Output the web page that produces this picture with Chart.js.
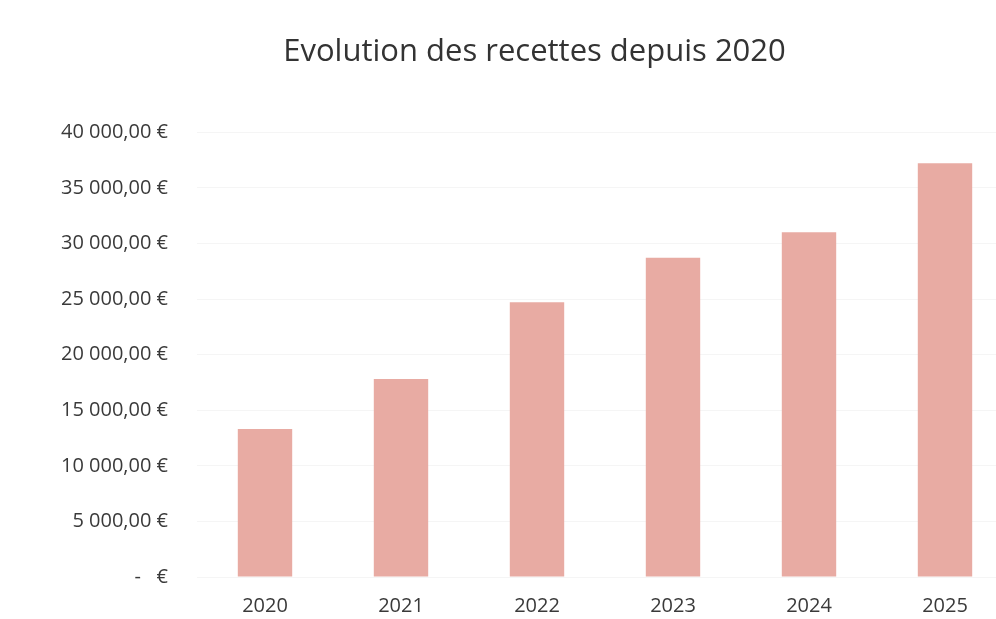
<!DOCTYPE html>
<html>
<head>
<meta charset="utf-8">
<script src="https://cdn.jsdelivr.net/npm/chart.js@4.4.0/dist/chart.umd.min.js"></script>
<style>
  html, body { margin: 0; padding: 0; background: #fff; }
  #wrap { width: 996px; height: 619px; overflow: hidden; position: relative; }
  #wrap canvas { position: absolute; left: 0; top: 0; }
</style>
</head>
<body>
<div id="wrap"><canvas id="chart" width="1080" height="619" style="width:1080px;height:619px"></canvas></div>
<script>
const years = ['2020', '2021', '2022', '2023', '2024', '2025'];
const recettes = [13300, 17800, 24700, 28700, 31000, 37200];
const yTicks = [0, 5000, 10000, 15000, 20000, 25000, 30000, 35000, 40000];

function euro(v) {
    if (v === 0) return '-   €';
    const s = Number(v).toFixed(2).replace('.', ',');
    const [ent, dec] = s.split(',');
    return ent.replace(/\B(?=(\d{3})+(?!\d))/g, ' ') + ',' + dec + ' €';
}

const ctx = document.getElementById('chart');
new Chart(ctx, {
    type: 'bar',
    data: {
        labels: years,
        datasets: [{
            label: 'Recettes',
            data: recettes,
            backgroundColor: '#e8aba3',
            borderWidth: 0,
            barPercentage: 0.4,
            categoryPercentage: 1
        }]
    },
    options: {
        responsive: false,
        animation: false,
        devicePixelRatio: 1,
        layout: { padding: { left: 56, right: 67, top: 0, bottom: 0 } },
        plugins: {
            legend: { display: false },
            tooltip: { enabled: false },
            title: {
                display: true,
                text: 'Evolution des recettes depuis 2020',
                color: '#333333',
                font: { family: 'Open Sans', size: 31, weight: 'normal' },
                padding: { top: 34, bottom: 61 }
            }
        },
        scales: {
            x: {
                grid: { display: false },
                border: { display: false },
                afterFit: axis => { axis.height = 42; },
                ticks: {
                    color: '#3a3a3a',
                    font: { family: 'Open Sans', size: 20 },
                    padding: 9
                }
            },
            y: {
                min: 0,
                max: 40000,
                afterBuildTicks: axis => { axis.ticks = yTicks.map(v => ({ value: v })); },
                afterFit: axis => { axis.width = 141; },
                grid: { color: '#f5f5f5', drawTicks: false },
                border: { display: false },
                ticks: {
                    color: '#3a3a3a',
                    font: { family: 'Open Sans', size: 20 },
                    padding: 29,
                    callback: v => euro(v)
                }
            }
        }
    }
});
</script>
</body>
</html>
